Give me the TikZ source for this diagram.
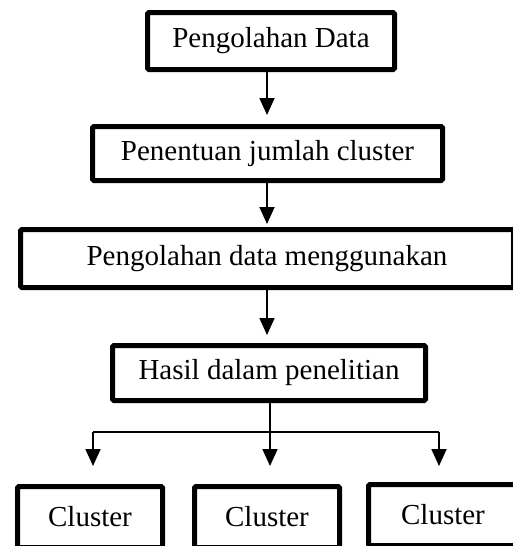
\documentclass[tikz,border=0pt]{standalone}
\usepackage{fontspec}
\setmainfont{Liberation Serif}
\usepackage{tikz}
\usetikzlibrary{arrows.meta,positioning,calc}
\tikzset{
  blk/.style  ={draw=black, line width=5pt, rounded corners=1.5pt, fill=white,
                align=center, inner sep=0pt, font=\fontsize{29}{34}\selectfont},
  top/.style  ={blk, minimum width=247pt, minimum height=57pt},
  cls/.style  ={blk, minimum width=145pt, minimum height=61pt},
  fl/.style   ={draw=black, line width=1.8pt, -{Triangle[length=17pt,width=15pt]}},
  ln/.style   ={draw=black, line width=1.8pt},
}

\begin{document}
\begin{tikzpicture}[x=1pt,y=-1pt]
  \clip (0,0) rectangle (513,546);
  \node[top] (data) at (271,41) {Pengolahan Data};
  \node[blk,minimum width=350pt,minimum height=54pt] (jumlah) at (267.5,153.5) {Penentuan jumlah cluster};
  \node[blk,minimum width=493pt,minimum height=58pt] (olah) at (267,258.5) {Pengolahan data menggunakan};
  \node[blk,minimum width=313pt,minimum height=55pt] (hasil) at (269,373) {Hasil dalam penelitian};
  \node[cls] (clA) at (90,517) {Cluster};
  \node[cls] (clB) at (267,517) {Cluster};
  \node[cls,minimum width=149pt] (clC) at (443,515) {Cluster};
  % arrows between the main steps
  \draw[fl,shorten >=9pt] (267,72) coordinate (a1) -- (a1 |- jumlah.north);
  \draw[fl,shorten >=3pt] (267,183) coordinate (a2) -- (a2 |- olah.north);
  \draw[fl,shorten >=8pt] (267,290) coordinate (a3) -- (a3 |- hasil.north);
  % branch to the clusters
  \coordinate (split) at (270,432);
  \coordinate (bL) at (93,432);
  \coordinate (bR) at (439,432);
  \coordinate (eL) at (93,466);
  \coordinate (eM) at (270,466);
  \coordinate (eR) at (439,466);
  \draw[ln] (270,403) coordinate (h0) -- (split);
  \draw[ln] (bL) -- (bR);
  \draw[fl] (bL) -- (eL);
  \draw[fl] (split) -- (eM);
  \draw[fl] (bR) -- (eR);
\end{tikzpicture}
\end{document}
